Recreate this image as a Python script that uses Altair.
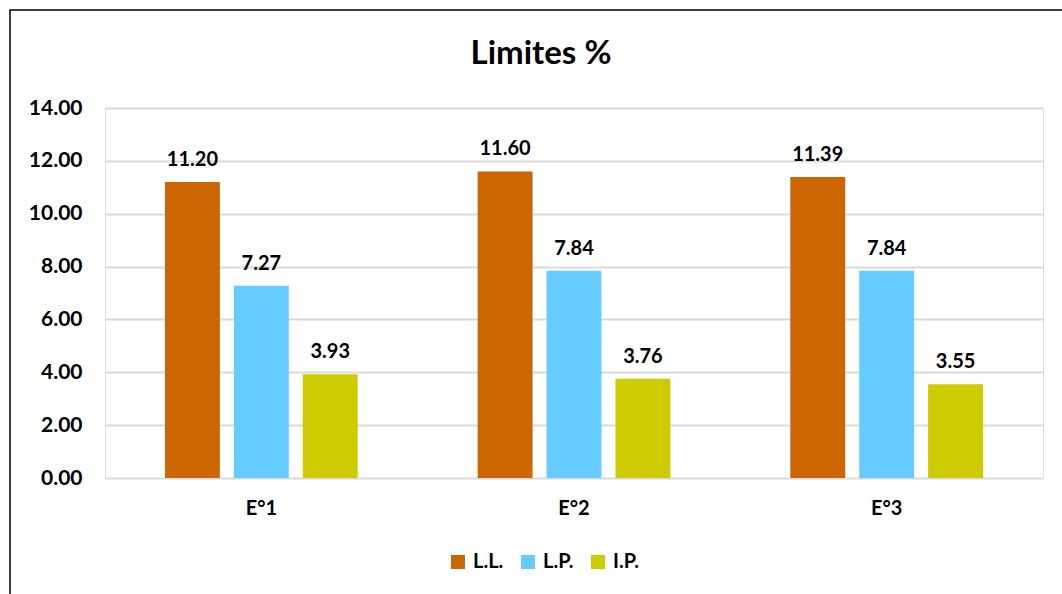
import altair as alt
import pandas as pd

# Soil consistency limits per sample
samples = ["E°1", "E°2", "E°3"]
series = ["L.L.", "L.P.", "I.P."]
ll_values = [11.20, 11.60, 11.39]
lp_values = [7.27, 7.84, 7.84]
ip_values = [3.93, 3.76, 3.55]
colors = ["#CC6600", "#66CCFF", "#CCCC00"]
y_ticks = [0, 2, 4, 6, 8, 10, 12, 14]
chart_title = "Limites %"

rows = []
for i, s in enumerate(samples):
    for name, vals in zip(series, [ll_values, lp_values, ip_values]):
        rows.append({"sample": s, "serie": name, "value": vals[i]})
df = pd.DataFrame(rows)

FONT = "Lato"
W, H = 938, 370
PAD_L, PAD_T = 105, 108
TOTAL_W, TOTAL_H = 1062, 594

x_enc = alt.X("sample:N", sort=samples, title=None,
              scale=alt.Scale(paddingInner=0, paddingOuter=0),
              axis=alt.Axis(labelAngle=0, labelFontSize=20, labelFontWeight="bold",
                            labelFont=FONT, labelColor="black", labelPadding=20,
                            ticks=False, domain=False, grid=False))
xo_enc = alt.XOffset("serie:N", sort=series,
                     scale=alt.Scale(paddingInner=0.203, paddingOuter=0.87))
y_enc = alt.Y("value:Q", title=None,
              scale=alt.Scale(domain=[0, 14], nice=False),
              axis=alt.Axis(values=y_ticks, format=".2f", labelFontSize=21,
                            labelFontWeight="bold", labelFont=FONT, labelColor="black",
                            labelPadding=23, ticks=False, domain=False,
                            gridColor="#d9d9d9", gridWidth=2))

base = alt.Chart(df)

bars = base.mark_bar().encode(
    x=x_enc,
    xOffset=xo_enc,
    y=y_enc,
    color=alt.Color("serie:N", sort=series, title=None,
                    scale=alt.Scale(domain=series, range=colors),
                    legend=alt.Legend(orient="none", direction="horizontal",
                                      legendX=343, legendY=444,
                                      symbolType="square", symbolSize=196,
                                      symbolStrokeWidth=0, symbolOpacity=1,
                                      labelFontSize=20, labelFontWeight="bold",
                                      labelFont=FONT, labelColor="black",
                                      labelOffset=5, columnPadding=14)),
)

labels = base.mark_text(baseline="alphabetic", dy=-16, fontSize=20,
                        fontWeight="bold", font=FONT, color="black").encode(
    x=alt.X("sample:N", sort=samples),
    xOffset=alt.XOffset("serie:N", sort=series),
    y="value:Q",
    text=alt.Text("value:Q", format=".2f"),
)

# Chart heading, centred on the figure
heading = alt.Chart(pd.DataFrame({"t": [chart_title]})).mark_text(
    fontSize=33, fontWeight="bold", font=FONT, color="black",
    align="center", baseline="alphabetic"
).encode(
    text="t:N",
    x=alt.value(TOTAL_W / 2 + 10 - PAD_L),
    y=alt.value(64 - PAD_T),
)

# Thin frame around the whole figure
frame = alt.Chart(pd.DataFrame({"k": [0]})).mark_rect(
    fill="transparent", stroke="black", strokeWidth=1.5
).encode(
    x=alt.value(10 - PAD_L),
    y=alt.value(10 - PAD_T),
    x2=alt.value(TOTAL_W - PAD_L + 20),
    y2=alt.value(TOTAL_H - PAD_T + 20),
)

chart = alt.layer(frame, bars, labels, heading).properties(
    width=W, height=H,
    autosize=alt.AutoSizeParams(type="none"),
    padding={"left": PAD_L, "top": PAD_T, "right": TOTAL_W - PAD_L - W,
             "bottom": TOTAL_H - PAD_T - H},
).configure_view(stroke=None).configure(background="white")

chart.save("out.html", embed_options={"renderer": "svg", "actions": False})
